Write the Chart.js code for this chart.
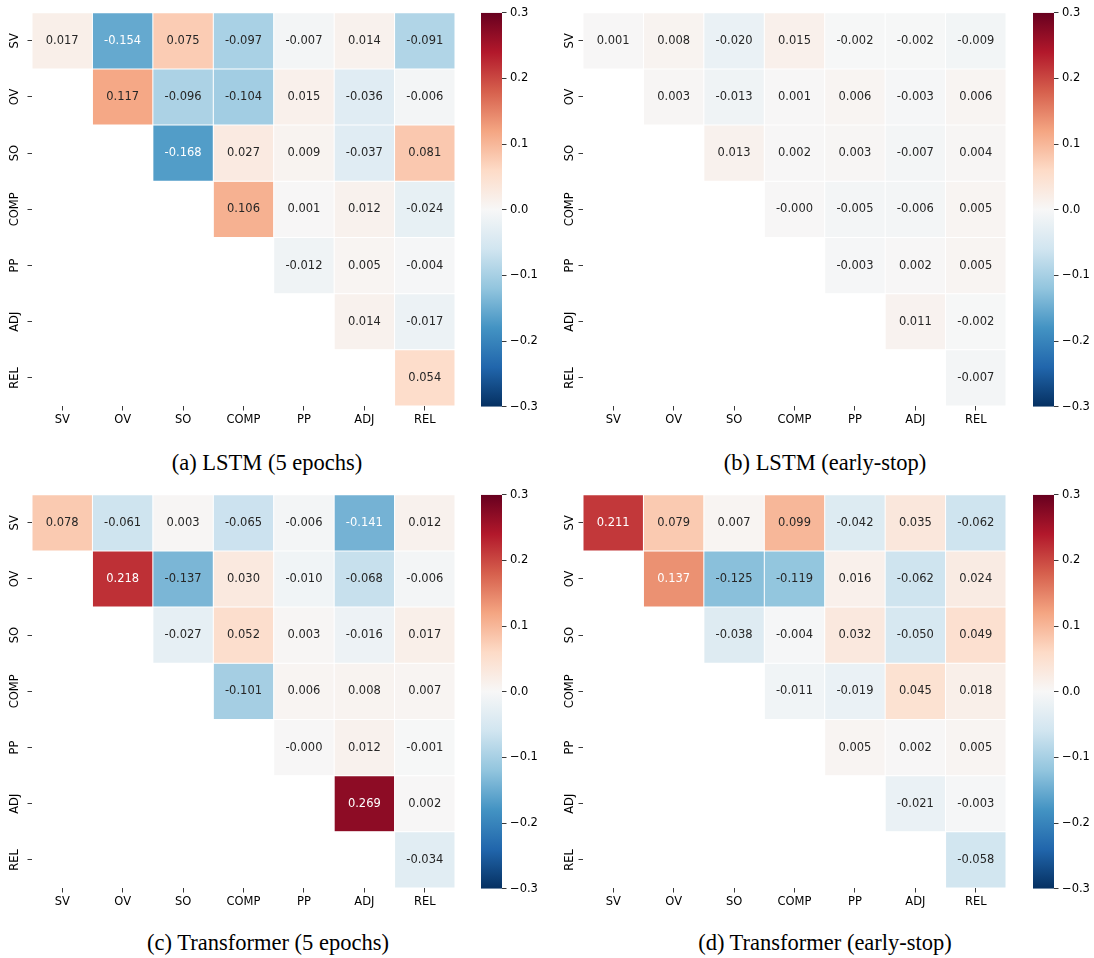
<!DOCTYPE html>
<html>
<head>
<meta charset="utf-8">
<script src="https://cdn.jsdelivr.net/npm/chart.js@4.4.1/dist/chart.umd.min.js"></script>
<style>
  html, body { margin: 0; padding: 0; background: #fff; }
  #fig { position: relative; width: 1094px; height: 958px; overflow: hidden; background: #fff; }
  #fig canvas { position: absolute; }
  .cap {
    position: absolute; width: 520px; text-align: center; white-space: nowrap;
    font-family: 'Liberation Serif', 'Times New Roman', serif;
    font-size: 22.5px; line-height: 26px; color: #000;
  }
</style>
</head>
<body>
<div id="fig"></div>
<script>
// Construction types shown on both axes (upper triangle only)
const relations = ['SV', 'OV', 'SO', 'COMP', 'PP', 'ADJ', 'REL'];

// Colour-bar range and ticks
const colorMin = -0.3;
const colorMax = 0.3;
const colorTicks = [-0.3, -0.2, -0.1, 0.0, 0.1, 0.2, 0.3];

// Correlation matrices, one row per construction (null = masked lower triangle)
const lstm5Epochs = [
  [0.017, -0.154, 0.075, -0.097, -0.007, 0.014, -0.091],
  [null, 0.117, -0.096, -0.104, 0.015, -0.036, -0.006],
  [null, null, -0.168, 0.027, 0.009, -0.037, 0.081],
  [null, null, null, 0.106, 0.001, 0.012, -0.024],
  [null, null, null, null, -0.012, 0.005, -0.004],
  [null, null, null, null, null, 0.014, -0.017],
  [null, null, null, null, null, null, 0.054]
];
const lstmEarlyStop = [
  [0.001, 0.008, -0.020, 0.015, -0.002, -0.002, -0.009],
  [null, 0.003, -0.013, 0.001, 0.006, -0.003, 0.006],
  [null, null, 0.013, 0.002, 0.003, -0.007, 0.004],
  [null, null, null, -0, -0.005, -0.006, 0.005],
  [null, null, null, null, -0.003, 0.002, 0.005],
  [null, null, null, null, null, 0.011, -0.002],
  [null, null, null, null, null, null, -0.007]
];
const transformer5Epochs = [
  [0.078, -0.061, 0.003, -0.065, -0.006, -0.141, 0.012],
  [null, 0.218, -0.137, 0.030, -0.010, -0.068, -0.006],
  [null, null, -0.027, 0.052, 0.003, -0.016, 0.017],
  [null, null, null, -0.101, 0.006, 0.008, 0.007],
  [null, null, null, null, -0, 0.012, -0.001],
  [null, null, null, null, null, 0.269, 0.002],
  [null, null, null, null, null, null, -0.034]
];
const transformerEarlyStop = [
  [0.211, 0.079, 0.007, 0.099, -0.042, 0.035, -0.062],
  [null, 0.137, -0.125, -0.119, 0.016, -0.062, 0.024],
  [null, null, -0.038, -0.004, 0.032, -0.050, 0.049],
  [null, null, null, -0.011, -0.019, 0.045, 0.018],
  [null, null, null, null, 0.005, 0.002, 0.005],
  [null, null, null, null, null, -0.021, -0.003],
  [null, null, null, null, null, null, -0.058]
];

const captionA = '(a) LSTM (5 epochs)';
const captionB = '(b) LSTM (early-stop)';
const captionC = '(c) Transformer (5 epochs)';
const captionD = '(d) Transformer (early-stop)';

// Diverging RdBu palette, reversed (blue = negative, red = positive)
const rdbuNodes = ['#053061', '#2166ac', '#4393c3', '#92c5de', '#d1e5f0', '#f7f7f7',
                   '#fddbc7', '#f4a582', '#d6604d', '#b2182b', '#67001f'];

const SANS = "'DejaVu Sans', 'Noto Sans', sans-serif";
const TICK_FONT = { family: SANS, size: 11.5 };
Chart.defaults.font.family = SANS;
Chart.defaults.animation = false;

function hexRgb(h) {
  return [parseInt(h.slice(1, 3), 16), parseInt(h.slice(3, 5), 16), parseInt(h.slice(5, 7), 16)];
}
const nodeRgb = rdbuNodes.map(hexRgb);

// 256-entry lookup, linear between the 11 palette nodes
function colormap(v) {
  let t = (v - colorMin) / (colorMax - colorMin);
  t = Math.max(0, Math.min(1, t));
  const idx = Math.min(255, Math.floor(t * 256));
  const pos = (idx / 255) * (nodeRgb.length - 1);
  const k = Math.min(nodeRgb.length - 2, Math.floor(pos));
  const f = pos - k;
  return [0, 1, 2].map(c => nodeRgb[k][c] + (nodeRgb[k + 1][c] - nodeRgb[k][c]) * f);
}
function cssColor(rgb) {
  return 'rgb(' + rgb.map(c => Math.round(c)).join(',') + ')';
}
// Dark text on light cells, white text on dark cells
function textColorFor(v) {
  const lin = colormap(v).map(c => {
    const s = c / 255;
    return s <= 0.03928 ? s / 12.92 : Math.pow((s + 0.055) / 1.055, 2.4);
  });
  const lum = 0.2126 * lin[0] + 0.7152 * lin[1] + 0.0722 * lin[2];
  return lum > 0.408 ? '#262626' : '#ffffff';
}
function fmt3(v) {
  const neg = v < 0 || Object.is(v, -0);
  return (neg ? '-' : '') + Math.abs(v).toFixed(3);
}
function fmtBar(v) {
  const r = Math.round(v * 10) / 10;
  return (r < 0 ? '\u2212' : '') + Math.abs(r).toFixed(1);
}

// Writes the value of every cell at its centre
const cellLabels = {
  id: 'cellLabels',
  afterDatasetsDraw(chart) {
    const ctx = chart.ctx;
    ctx.save();
    ctx.font = '11.5px ' + SANS;
    ctx.textAlign = 'center';
    ctx.textBaseline = 'middle';
    chart.data.datasets.forEach((ds, i) => {
      const meta = chart.getDatasetMeta(i);
      meta.data.forEach((el, j) => {
        const v = ds.cellValues[j];
        if (v === null || v === undefined) return;
        const p = el.getCenterPoint();
        ctx.fillStyle = textColorFor(v);
        ctx.fillText(fmt3(v), p.x, p.y);
      });
    });
    ctx.restore();
  }
};

// Vertical row names beside the y-axis ticks
const rowLabels = {
  id: 'rowLabels',
  afterDraw(chart, args, opts) {
    const ys = chart.scales.y;
    const ctx = chart.ctx;
    ctx.save();
    ctx.font = '11.5px ' + SANS;
    ctx.fillStyle = '#000';
    ctx.textAlign = 'center';
    ctx.textBaseline = 'middle';
    opts.labels.forEach((lab, i) => {
      ctx.save();
      ctx.translate(chart.chartArea.left - opts.offset, ys.getPixelForValue(i));
      ctx.rotate(-Math.PI / 2);
      ctx.fillText(lab, 0, 0);
      ctx.restore();
    });
    ctx.restore();
  }
};

const fig = document.getElementById('fig');

function addCanvas(left, top, w, h) {
  const c = document.createElement('canvas');
  c.width = w; c.height = h;
  c.style.left = left + 'px'; c.style.top = top + 'px';
  c.style.width = w + 'px'; c.style.height = h + 'px';
  fig.appendChild(c);
  return c;
}

function heatmap(values, left, top, labelOffset) {
  const canvas = addCanvas(left, top, 470, 440);
  const datasets = values.map((row, r) => ({
    data: row.map(v => (v === null ? null : [r - 0.5, r + 0.5])),
    cellValues: row,
    backgroundColor: row.map(v => (v === null ? 'rgba(0,0,0,0)' : cssColor(colormap(v)))),
    borderColor: '#ffffff',
    borderWidth: 0.5,
    borderSkipped: false,
    inflateAmount: 0,
    grouped: false,
    barPercentage: 1,
    categoryPercentage: 1
  }));
  return new Chart(canvas, {
    type: 'bar',
    data: { labels: relations, datasets },
    options: {
      responsive: false,
      devicePixelRatio: 1,
      animation: false,
      layout: { padding: { top: 12.7, right: 15, left: 0, bottom: 0 } },
      plugins: {
        legend: { display: false },
        tooltip: { enabled: false },
        rowLabels: { labels: relations, offset: labelOffset }
      },
      scales: {
        x: {
          type: 'category',
          offset: true,
          grid: { display: true, offset: false, drawOnChartArea: false, drawTicks: true,
                  tickLength: 4.5, tickColor: '#222', tickWidth: 0.9 },
          border: { display: false },
          ticks: { font: TICK_FONT, color: '#000', padding: 2.5, maxRotation: 0, autoSkip: false },
          afterFit(s) { s.height = 34; }
        },
        y: {
          type: 'linear',
          min: -0.5,
          max: relations.length - 0.5,
          reverse: true,
          afterBuildTicks(s) { s.ticks = relations.map((_, i) => ({ value: i })); },
          grid: { display: true, drawOnChartArea: false, drawTicks: true,
                  tickLength: 4.5, tickColor: '#222', tickWidth: 0.9 },
          border: { display: false },
          ticks: { display: false },
          afterFit(s) { s.width = 32; }
        }
      }
    },
    plugins: [cellLabels, rowLabels]
  });
}

function colorbar(left, top) {
  const canvas = addCanvas(left, top, 80, 420);
  return new Chart(canvas, {
    type: 'bar',
    data: {
      labels: [''],
      datasets: [{
        data: [[colorMin, colorMax]],
        borderWidth: 0,
        inflateAmount: 0,
        barPercentage: 1,
        categoryPercentage: 1,
        backgroundColor(ctx) {
          const area = ctx.chart.chartArea;
          if (!area) return '#f7f7f7';
          const g = ctx.chart.ctx.createLinearGradient(0, area.bottom, 0, area.top);
          rdbuNodes.forEach((c, i) => g.addColorStop(i / (rdbuNodes.length - 1), c));
          return g;
        }
      }]
    },
    options: {
      responsive: false,
      devicePixelRatio: 1,
      animation: false,
      layout: { padding: { top: 12.7, bottom: 13.3, left: 11, right: 0 } },
      plugins: { legend: { display: false }, tooltip: { enabled: false } },
      scales: {
        x: { display: false },
        y: {
          position: 'right',
          min: colorMin,
          max: colorMax,
          afterBuildTicks(s) { s.ticks = colorTicks.map(v => ({ value: v })); },
          grid: { display: true, drawOnChartArea: false, drawTicks: true,
                  tickLength: 4.5, tickColor: '#222', tickWidth: 0.9 },
          border: { display: false },
          ticks: { font: TICK_FONT, color: '#000', padding: 3.5, callback: v => fmtBar(v) },
          afterFit(s) { s.width = 48; }
        }
      }
    }
  });
}

function caption(text, centerX, top) {
  const d = document.createElement('div');
  d.className = 'cap';
  d.textContent = text;
  d.style.left = (centerX - 260) + 'px';
  d.style.top = top + 'px';
  fig.appendChild(d);
}

// Four panels: 2 x 2 grid
heatmap(lstm5Epochs, 0, 0, 16.8);
colorbar(470, 0);
caption(captionA, 267, 450);

heatmap(lstmEarlyStop, 551.3, 0, 13);
colorbar(1022, 0);
caption(captionB, 825, 450);

heatmap(transformer5Epochs, 0, 481.5, 16.8);
colorbar(470, 481.5);
caption(captionC, 268, 930);

heatmap(transformerEarlyStop, 551.3, 481.5, 13);
colorbar(1022, 481.5);
caption(captionD, 825, 930);
</script>
</body>
</html>
